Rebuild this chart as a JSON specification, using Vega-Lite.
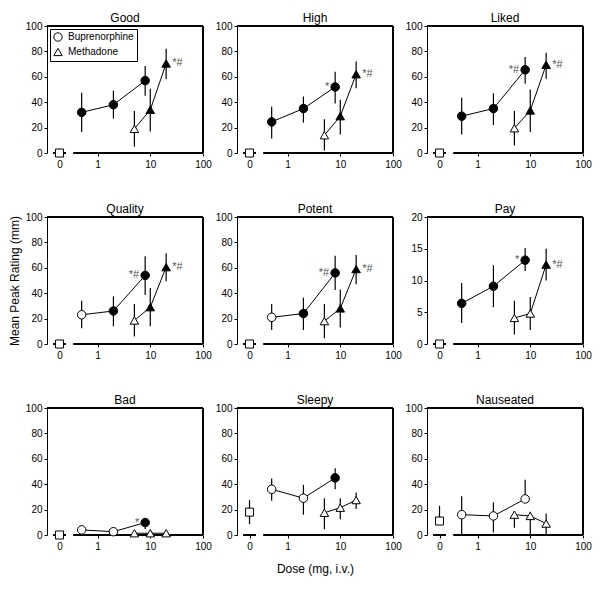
{
"$schema": "https://vega.github.io/schema/vega-lite/v6.json",
"padding": {"left": 8, "top": 12, "right": 5, "bottom": 5},
"datasets": {"d": [
{"panel":"Good","drug":"Placebo","dose":0,"mean":0,"lo":0,"hi":0,"sig":"no","annot":""},
{"panel":"Good","drug":"Buprenorphine","dose":0.5,"mean":32,"lo":16.5,"hi":47.5,"sig":"yes","annot":""},
{"panel":"Good","drug":"Buprenorphine","dose":2,"mean":38,"lo":27,"hi":49,"sig":"yes","annot":""},
{"panel":"Good","drug":"Buprenorphine","dose":8,"mean":57,"lo":45,"hi":68.5,"sig":"yes","annot":""},
{"panel":"Good","drug":"Methadone","dose":5,"mean":19,"lo":5,"hi":33,"sig":"no","annot":""},
{"panel":"Good","drug":"Methadone","dose":10,"mean":34,"lo":17,"hi":50.5,"sig":"yes","annot":""},
{"panel":"Good","drug":"Methadone","dose":20,"mean":70.5,"lo":58,"hi":82,"sig":"yes","annot":"*#"},
{"panel":"High","drug":"Placebo","dose":0,"mean":0,"lo":0,"hi":0,"sig":"no","annot":""},
{"panel":"High","drug":"Buprenorphine","dose":0.5,"mean":24.5,"lo":11.5,"hi":36.5,"sig":"yes","annot":""},
{"panel":"High","drug":"Buprenorphine","dose":2,"mean":35,"lo":24,"hi":44.5,"sig":"yes","annot":""},
{"panel":"High","drug":"Buprenorphine","dose":8,"mean":52,"lo":39,"hi":64,"sig":"yes","annot":"*"},
{"panel":"High","drug":"Methadone","dose":5,"mean":14,"lo":2,"hi":26.5,"sig":"no","annot":""},
{"panel":"High","drug":"Methadone","dose":10,"mean":29,"lo":14.5,"hi":42,"sig":"yes","annot":""},
{"panel":"High","drug":"Methadone","dose":20,"mean":62,"lo":51,"hi":72,"sig":"yes","annot":"*#"},
{"panel":"Liked","drug":"Placebo","dose":0,"mean":0,"lo":0,"hi":0,"sig":"no","annot":""},
{"panel":"Liked","drug":"Buprenorphine","dose":0.5,"mean":29,"lo":14.5,"hi":43.5,"sig":"yes","annot":""},
{"panel":"Liked","drug":"Buprenorphine","dose":2,"mean":35,"lo":22,"hi":47,"sig":"yes","annot":""},
{"panel":"Liked","drug":"Buprenorphine","dose":8,"mean":65.5,"lo":54.5,"hi":75.5,"sig":"yes","annot":"*#"},
{"panel":"Liked","drug":"Methadone","dose":5,"mean":19.5,"lo":6,"hi":33,"sig":"no","annot":""},
{"panel":"Liked","drug":"Methadone","dose":10,"mean":33.5,"lo":16.5,"hi":50,"sig":"yes","annot":""},
{"panel":"Liked","drug":"Methadone","dose":20,"mean":69.5,"lo":58.5,"hi":79,"sig":"yes","annot":"*#"},
{"panel":"Quality","drug":"Placebo","dose":0,"mean":0,"lo":0,"hi":0,"sig":"no","annot":""},
{"panel":"Quality","drug":"Buprenorphine","dose":0.5,"mean":23,"lo":12.5,"hi":34,"sig":"no","annot":""},
{"panel":"Quality","drug":"Buprenorphine","dose":2,"mean":26,"lo":14,"hi":37.5,"sig":"yes","annot":""},
{"panel":"Quality","drug":"Buprenorphine","dose":8,"mean":54,"lo":38.5,"hi":69,"sig":"yes","annot":"*#"},
{"panel":"Quality","drug":"Methadone","dose":5,"mean":18.5,"lo":6,"hi":31.5,"sig":"no","annot":""},
{"panel":"Quality","drug":"Methadone","dose":10,"mean":29,"lo":14,"hi":44,"sig":"yes","annot":""},
{"panel":"Quality","drug":"Methadone","dose":20,"mean":60.5,"lo":49.5,"hi":71.5,"sig":"yes","annot":"*#"},
{"panel":"Potent","drug":"Placebo","dose":0,"mean":0,"lo":0,"hi":0,"sig":"no","annot":""},
{"panel":"Potent","drug":"Buprenorphine","dose":0.5,"mean":21,"lo":11,"hi":31.5,"sig":"no","annot":""},
{"panel":"Potent","drug":"Buprenorphine","dose":2,"mean":24,"lo":11,"hi":36.5,"sig":"yes","annot":""},
{"panel":"Potent","drug":"Buprenorphine","dose":8,"mean":56,"lo":42.5,"hi":69.5,"sig":"yes","annot":"*#"},
{"panel":"Potent","drug":"Methadone","dose":5,"mean":18,"lo":4.5,"hi":31.5,"sig":"no","annot":""},
{"panel":"Potent","drug":"Methadone","dose":10,"mean":28,"lo":13,"hi":43,"sig":"yes","annot":""},
{"panel":"Potent","drug":"Methadone","dose":20,"mean":59,"lo":47,"hi":70,"sig":"yes","annot":"*#"},
{"panel":"Pay","drug":"Placebo","dose":0,"mean":0,"lo":0,"hi":0,"sig":"no","annot":""},
{"panel":"Pay","drug":"Buprenorphine","dose":0.5,"mean":6.4,"lo":3.3,"hi":9.6,"sig":"yes","annot":""},
{"panel":"Pay","drug":"Buprenorphine","dose":2,"mean":9.1,"lo":5.8,"hi":12.4,"sig":"yes","annot":""},
{"panel":"Pay","drug":"Buprenorphine","dose":8,"mean":13.2,"lo":11.5,"hi":15.1,"sig":"yes","annot":"*"},
{"panel":"Pay","drug":"Methadone","dose":5,"mean":4.1,"lo":1.5,"hi":6.8,"sig":"no","annot":""},
{"panel":"Pay","drug":"Methadone","dose":10,"mean":4.8,"lo":2.2,"hi":7.4,"sig":"no","annot":""},
{"panel":"Pay","drug":"Methadone","dose":20,"mean":12.5,"lo":10,"hi":15,"sig":"yes","annot":"*#"},
{"panel":"Bad","drug":"Placebo","dose":0,"mean":0,"lo":0,"hi":0,"sig":"no","annot":""},
{"panel":"Bad","drug":"Buprenorphine","dose":0.5,"mean":4,"lo":4,"hi":4,"sig":"no","annot":""},
{"panel":"Bad","drug":"Buprenorphine","dose":2,"mean":2.6,"lo":2.6,"hi":2.6,"sig":"no","annot":""},
{"panel":"Bad","drug":"Buprenorphine","dose":8,"mean":9.8,"lo":4.8,"hi":9.8,"sig":"yes","annot":"*"},
{"panel":"Bad","drug":"Methadone","dose":5,"mean":1.4,"lo":1.4,"hi":1.4,"sig":"no","annot":""},
{"panel":"Bad","drug":"Methadone","dose":10,"mean":1.4,"lo":1.4,"hi":1.4,"sig":"no","annot":""},
{"panel":"Bad","drug":"Methadone","dose":20,"mean":1.4,"lo":1.4,"hi":1.4,"sig":"no","annot":""},
{"panel":"Sleepy","drug":"Placebo","dose":0,"mean":18,"lo":8.5,"hi":27.5,"sig":"no","annot":""},
{"panel":"Sleepy","drug":"Buprenorphine","dose":0.5,"mean":36,"lo":27,"hi":44.5,"sig":"no","annot":""},
{"panel":"Sleepy","drug":"Buprenorphine","dose":2,"mean":29,"lo":16,"hi":39.5,"sig":"no","annot":""},
{"panel":"Sleepy","drug":"Buprenorphine","dose":8,"mean":45,"lo":36,"hi":52.5,"sig":"yes","annot":""},
{"panel":"Sleepy","drug":"Methadone","dose":5,"mean":17.5,"lo":4.5,"hi":29,"sig":"no","annot":""},
{"panel":"Sleepy","drug":"Methadone","dose":10,"mean":21.5,"lo":12.5,"hi":29,"sig":"no","annot":""},
{"panel":"Sleepy","drug":"Methadone","dose":20,"mean":27.5,"lo":20.5,"hi":33.5,"sig":"no","annot":""},
{"panel":"Nauseated","drug":"Placebo","dose":0,"mean":11,"lo":11,"hi":23,"sig":"no","annot":""},
{"panel":"Nauseated","drug":"Buprenorphine","dose":0.5,"mean":16,"lo":0,"hi":30.5,"sig":"no","annot":""},
{"panel":"Nauseated","drug":"Buprenorphine","dose":2,"mean":15,"lo":2,"hi":25.7,"sig":"no","annot":""},
{"panel":"Nauseated","drug":"Buprenorphine","dose":8,"mean":28.4,"lo":28.4,"hi":43.5,"sig":"no","annot":""},
{"panel":"Nauseated","drug":"Methadone","dose":5,"mean":16,"lo":5.8,"hi":18.5,"sig":"no","annot":""},
{"panel":"Nauseated","drug":"Methadone","dose":10,"mean":15,"lo":0,"hi":18.3,"sig":"no","annot":""},
{"panel":"Nauseated","drug":"Methadone","dose":20,"mean":9,"lo":0,"hi":17,"sig":"no","annot":""}
]},
"data": {"name": "d"},
"columns": 3,
"align": "each",
"spacing": {"row": 34, "column": 3},
"resolve": {"scale": {"shape": "independent", "fill": "independent"}, "legend": {"shape": "independent", "fill": "independent"}},
"concat": [
{"title": "Good", "width": 156, "height": 127,
 "transform": [{"filter": "datum.panel === 'Good'"}],
 "resolve": {"scale": {"x": "independent"}},
 "layer": [
  {"transform": [{"filter": "datum.drug !== 'Placebo'"}],
   "encoding": {
    "x": {"field": "dose", "type": "quantitative", "scale": {"type": "log", "domain": [0.11, 100], "nice": false}, "axis": {"values": [0.19, 1, 10, 100], "labelExpr": "datum.value < 0.5 ? '0' : format(datum.value, 'd')", "domain": false, "title": null}},
    "y": {"field": "mean", "type": "quantitative", "scale": {"domain": [0, 100], "nice": false}, "axis": {"values": [0, 20, 40, 60, 80, 100], "title": null}}},
   "layer": [
    {"mark": {"type": "rule", "stroke": "black", "strokeWidth": 1}, "encoding": {"x": {"datum": 0.11, "type": "quantitative", "scale": {"type": "log", "domain": [0.11, 100], "nice": false}, "axis": {"values": [0.19, 1, 10, 100], "labelExpr": "datum.value < 0.5 ? '0' : format(datum.value, 'd')", "domain": false, "title": null}}, "x2": {"datum": 100}, "y": {"datum": 100, "type": "quantitative", "scale": {"domain": [0, 100], "nice": false}, "axis": {"values": [0, 20, 40, 60, 80, 100], "title": null}}}},
    {"mark": {"type": "rule", "stroke": "black", "strokeWidth": 1}, "encoding": {"x": {"datum": 100, "type": "quantitative", "scale": {"type": "log", "domain": [0.11, 100], "nice": false}, "axis": {"values": [0.19, 1, 10, 100], "labelExpr": "datum.value < 0.5 ? '0' : format(datum.value, 'd')", "domain": false, "title": null}}, "y": {"datum": 0, "type": "quantitative", "scale": {"domain": [0, 100], "nice": false}, "axis": {"values": [0, 20, 40, 60, 80, 100], "title": null}}, "y2": {"datum": 100}}},
    {"mark": {"type": "rule", "stroke": "black", "strokeWidth": 1}, "encoding": {"x": {"datum": 0.35, "type": "quantitative", "scale": {"type": "log", "domain": [0.11, 100], "nice": false}, "axis": {"values": [0.19, 1, 10, 100], "labelExpr": "datum.value < 0.5 ? '0' : format(datum.value, 'd')", "domain": false, "title": null}}, "x2": {"datum": 100}, "y": {"datum": 0, "type": "quantitative", "scale": {"domain": [0, 100], "nice": false}, "axis": {"values": [0, 20, 40, 60, 80, 100], "title": null}}}},
    {"mark": {"type": "rule", "stroke": "black", "strokeWidth": 1}, "encoding": {"x": {"datum": 0.145, "type": "quantitative", "scale": {"type": "log", "domain": [0.11, 100], "nice": false}, "axis": {"values": [0.19, 1, 10, 100], "labelExpr": "datum.value < 0.5 ? '0' : format(datum.value, 'd')", "domain": false, "title": null}}, "x2": {"datum": 0.25}, "y": {"datum": 0, "type": "quantitative", "scale": {"domain": [0, 100], "nice": false}, "axis": {"values": [0, 20, 40, 60, 80, 100], "title": null}}}},
    {"mark": {"type": "line", "stroke": "black", "strokeWidth": 1}, "encoding": {"detail": {"field": "drug"}}},
    {"mark": {"type": "rule", "stroke": "black", "strokeWidth": 1.2}, "encoding": {"y": {"field": "lo", "type": "quantitative", "scale": {"domain": [0, 100], "nice": false}, "axis": {"values": [0, 20, 40, 60, 80, 100], "title": null}}, "y2": {"field": "hi"}}},
    {"mark": {"type": "point", "filled": true, "stroke": "black", "strokeWidth": 1, "size": 72, "opacity": 1}, "encoding": {
      "shape": {"field": "drug", "type": "nominal", "scale": {"domain": ["Buprenorphine", "Methadone"], "range": ["circle", "triangle-up"]}, "legend": {"orient": "top-left", "title": null, "offset": 3, "strokeColor": "black", "fillColor": "white", "padding": 3, "labelFontSize": 10, "labelColor": "black", "symbolSize": 70, "symbolFillColor": "white", "symbolStrokeColor": "black", "symbolStrokeWidth": 1, "rowPadding": 2, "labelOffset": 5}},
      "fill": {"field": "sig", "type": "nominal", "scale": {"domain": ["yes", "no"], "range": ["black", "white"]}, "legend": null}}},
    {"transform": [{"filter": "datum.drug === 'Buprenorphine'"}], "mark": {"type": "text", "align": "right", "baseline": "middle", "dx": -6, "fontSize": 11, "color": "#555"}, "encoding": {"text": {"field": "annot"}}},
    {"transform": [{"filter": "datum.drug === 'Methadone'"}], "mark": {"type": "text", "align": "left", "baseline": "middle", "dx": 6, "fontSize": 11, "color": "#555"}, "encoding": {"text": {"field": "annot"}}}
   ]},
  {"transform": [{"filter": "datum.drug === 'Placebo'"}],
   "encoding": {"x": {"field": "dose", "type": "quantitative", "scale": {"type": "linear", "domain": [-1, 11.46], "nice": false, "zero": false}, "axis": null},
    "y": {"field": "mean", "type": "quantitative", "scale": {"domain": [0, 100], "nice": false}, "axis": {"values": [0, 20, 40, 60, 80, 100], "title": null}}},
   "layer": [
    {"mark": {"type": "rule", "stroke": "black", "strokeWidth": 1.2}, "encoding": {"y": {"field": "lo", "type": "quantitative", "scale": {"domain": [0, 100], "nice": false}, "axis": {"values": [0, 20, 40, 60, 80, 100], "title": null}}, "y2": {"field": "hi"}}},
    {"mark": {"type": "point", "shape": "square", "filled": true, "fill": "white", "stroke": "black", "strokeWidth": 1, "size": 64, "opacity": 1}}
   ]}
 ]},
{"title": "High", "width": 156, "height": 127,
 "transform": [{"filter": "datum.panel === 'High'"}],
 "resolve": {"scale": {"x": "independent"}},
 "layer": [
  {"transform": [{"filter": "datum.drug !== 'Placebo'"}],
   "encoding": {
    "x": {"field": "dose", "type": "quantitative", "scale": {"type": "log", "domain": [0.11, 100], "nice": false}, "axis": {"values": [0.19, 1, 10, 100], "labelExpr": "datum.value < 0.5 ? '0' : format(datum.value, 'd')", "domain": false, "title": null}},
    "y": {"field": "mean", "type": "quantitative", "scale": {"domain": [0, 100], "nice": false}, "axis": {"values": [0, 20, 40, 60, 80, 100], "title": null}}},
   "layer": [
    {"mark": {"type": "rule", "stroke": "black", "strokeWidth": 1}, "encoding": {"x": {"datum": 0.11, "type": "quantitative", "scale": {"type": "log", "domain": [0.11, 100], "nice": false}, "axis": {"values": [0.19, 1, 10, 100], "labelExpr": "datum.value < 0.5 ? '0' : format(datum.value, 'd')", "domain": false, "title": null}}, "x2": {"datum": 100}, "y": {"datum": 100, "type": "quantitative", "scale": {"domain": [0, 100], "nice": false}, "axis": {"values": [0, 20, 40, 60, 80, 100], "title": null}}}},
    {"mark": {"type": "rule", "stroke": "black", "strokeWidth": 1}, "encoding": {"x": {"datum": 100, "type": "quantitative", "scale": {"type": "log", "domain": [0.11, 100], "nice": false}, "axis": {"values": [0.19, 1, 10, 100], "labelExpr": "datum.value < 0.5 ? '0' : format(datum.value, 'd')", "domain": false, "title": null}}, "y": {"datum": 0, "type": "quantitative", "scale": {"domain": [0, 100], "nice": false}, "axis": {"values": [0, 20, 40, 60, 80, 100], "title": null}}, "y2": {"datum": 100}}},
    {"mark": {"type": "rule", "stroke": "black", "strokeWidth": 1}, "encoding": {"x": {"datum": 0.35, "type": "quantitative", "scale": {"type": "log", "domain": [0.11, 100], "nice": false}, "axis": {"values": [0.19, 1, 10, 100], "labelExpr": "datum.value < 0.5 ? '0' : format(datum.value, 'd')", "domain": false, "title": null}}, "x2": {"datum": 100}, "y": {"datum": 0, "type": "quantitative", "scale": {"domain": [0, 100], "nice": false}, "axis": {"values": [0, 20, 40, 60, 80, 100], "title": null}}}},
    {"mark": {"type": "rule", "stroke": "black", "strokeWidth": 1}, "encoding": {"x": {"datum": 0.145, "type": "quantitative", "scale": {"type": "log", "domain": [0.11, 100], "nice": false}, "axis": {"values": [0.19, 1, 10, 100], "labelExpr": "datum.value < 0.5 ? '0' : format(datum.value, 'd')", "domain": false, "title": null}}, "x2": {"datum": 0.25}, "y": {"datum": 0, "type": "quantitative", "scale": {"domain": [0, 100], "nice": false}, "axis": {"values": [0, 20, 40, 60, 80, 100], "title": null}}}},
    {"mark": {"type": "line", "stroke": "black", "strokeWidth": 1}, "encoding": {"detail": {"field": "drug"}}},
    {"mark": {"type": "rule", "stroke": "black", "strokeWidth": 1.2}, "encoding": {"y": {"field": "lo", "type": "quantitative", "scale": {"domain": [0, 100], "nice": false}, "axis": {"values": [0, 20, 40, 60, 80, 100], "title": null}}, "y2": {"field": "hi"}}},
    {"mark": {"type": "point", "filled": true, "stroke": "black", "strokeWidth": 1, "size": 72, "opacity": 1}, "encoding": {
      "shape": {"field": "drug", "type": "nominal", "scale": {"domain": ["Buprenorphine", "Methadone"], "range": ["circle", "triangle-up"]}, "legend": null},
      "fill": {"field": "sig", "type": "nominal", "scale": {"domain": ["yes", "no"], "range": ["black", "white"]}, "legend": null}}},
    {"transform": [{"filter": "datum.drug === 'Buprenorphine'"}], "mark": {"type": "text", "align": "right", "baseline": "middle", "dx": -6, "fontSize": 11, "color": "#555"}, "encoding": {"text": {"field": "annot"}}},
    {"transform": [{"filter": "datum.drug === 'Methadone'"}], "mark": {"type": "text", "align": "left", "baseline": "middle", "dx": 6, "fontSize": 11, "color": "#555"}, "encoding": {"text": {"field": "annot"}}}
   ]},
  {"transform": [{"filter": "datum.drug === 'Placebo'"}],
   "encoding": {"x": {"field": "dose", "type": "quantitative", "scale": {"type": "linear", "domain": [-1, 11.46], "nice": false, "zero": false}, "axis": null},
    "y": {"field": "mean", "type": "quantitative", "scale": {"domain": [0, 100], "nice": false}, "axis": {"values": [0, 20, 40, 60, 80, 100], "title": null}}},
   "layer": [
    {"mark": {"type": "rule", "stroke": "black", "strokeWidth": 1.2}, "encoding": {"y": {"field": "lo", "type": "quantitative", "scale": {"domain": [0, 100], "nice": false}, "axis": {"values": [0, 20, 40, 60, 80, 100], "title": null}}, "y2": {"field": "hi"}}},
    {"mark": {"type": "point", "shape": "square", "filled": true, "fill": "white", "stroke": "black", "strokeWidth": 1, "size": 64, "opacity": 1}}
   ]}
 ]},
{"title": "Liked", "width": 156, "height": 127,
 "transform": [{"filter": "datum.panel === 'Liked'"}],
 "resolve": {"scale": {"x": "independent"}},
 "layer": [
  {"transform": [{"filter": "datum.drug !== 'Placebo'"}],
   "encoding": {
    "x": {"field": "dose", "type": "quantitative", "scale": {"type": "log", "domain": [0.11, 100], "nice": false}, "axis": {"values": [0.19, 1, 10, 100], "labelExpr": "datum.value < 0.5 ? '0' : format(datum.value, 'd')", "domain": false, "title": null}},
    "y": {"field": "mean", "type": "quantitative", "scale": {"domain": [0, 100], "nice": false}, "axis": {"values": [0, 20, 40, 60, 80, 100], "title": null}}},
   "layer": [
    {"mark": {"type": "rule", "stroke": "black", "strokeWidth": 1}, "encoding": {"x": {"datum": 0.11, "type": "quantitative", "scale": {"type": "log", "domain": [0.11, 100], "nice": false}, "axis": {"values": [0.19, 1, 10, 100], "labelExpr": "datum.value < 0.5 ? '0' : format(datum.value, 'd')", "domain": false, "title": null}}, "x2": {"datum": 100}, "y": {"datum": 100, "type": "quantitative", "scale": {"domain": [0, 100], "nice": false}, "axis": {"values": [0, 20, 40, 60, 80, 100], "title": null}}}},
    {"mark": {"type": "rule", "stroke": "black", "strokeWidth": 1}, "encoding": {"x": {"datum": 100, "type": "quantitative", "scale": {"type": "log", "domain": [0.11, 100], "nice": false}, "axis": {"values": [0.19, 1, 10, 100], "labelExpr": "datum.value < 0.5 ? '0' : format(datum.value, 'd')", "domain": false, "title": null}}, "y": {"datum": 0, "type": "quantitative", "scale": {"domain": [0, 100], "nice": false}, "axis": {"values": [0, 20, 40, 60, 80, 100], "title": null}}, "y2": {"datum": 100}}},
    {"mark": {"type": "rule", "stroke": "black", "strokeWidth": 1}, "encoding": {"x": {"datum": 0.35, "type": "quantitative", "scale": {"type": "log", "domain": [0.11, 100], "nice": false}, "axis": {"values": [0.19, 1, 10, 100], "labelExpr": "datum.value < 0.5 ? '0' : format(datum.value, 'd')", "domain": false, "title": null}}, "x2": {"datum": 100}, "y": {"datum": 0, "type": "quantitative", "scale": {"domain": [0, 100], "nice": false}, "axis": {"values": [0, 20, 40, 60, 80, 100], "title": null}}}},
    {"mark": {"type": "rule", "stroke": "black", "strokeWidth": 1}, "encoding": {"x": {"datum": 0.145, "type": "quantitative", "scale": {"type": "log", "domain": [0.11, 100], "nice": false}, "axis": {"values": [0.19, 1, 10, 100], "labelExpr": "datum.value < 0.5 ? '0' : format(datum.value, 'd')", "domain": false, "title": null}}, "x2": {"datum": 0.25}, "y": {"datum": 0, "type": "quantitative", "scale": {"domain": [0, 100], "nice": false}, "axis": {"values": [0, 20, 40, 60, 80, 100], "title": null}}}},
    {"mark": {"type": "line", "stroke": "black", "strokeWidth": 1}, "encoding": {"detail": {"field": "drug"}}},
    {"mark": {"type": "rule", "stroke": "black", "strokeWidth": 1.2}, "encoding": {"y": {"field": "lo", "type": "quantitative", "scale": {"domain": [0, 100], "nice": false}, "axis": {"values": [0, 20, 40, 60, 80, 100], "title": null}}, "y2": {"field": "hi"}}},
    {"mark": {"type": "point", "filled": true, "stroke": "black", "strokeWidth": 1, "size": 72, "opacity": 1}, "encoding": {
      "shape": {"field": "drug", "type": "nominal", "scale": {"domain": ["Buprenorphine", "Methadone"], "range": ["circle", "triangle-up"]}, "legend": null},
      "fill": {"field": "sig", "type": "nominal", "scale": {"domain": ["yes", "no"], "range": ["black", "white"]}, "legend": null}}},
    {"transform": [{"filter": "datum.drug === 'Buprenorphine'"}], "mark": {"type": "text", "align": "right", "baseline": "middle", "dx": -6, "fontSize": 11, "color": "#555"}, "encoding": {"text": {"field": "annot"}}},
    {"transform": [{"filter": "datum.drug === 'Methadone'"}], "mark": {"type": "text", "align": "left", "baseline": "middle", "dx": 6, "fontSize": 11, "color": "#555"}, "encoding": {"text": {"field": "annot"}}}
   ]},
  {"transform": [{"filter": "datum.drug === 'Placebo'"}],
   "encoding": {"x": {"field": "dose", "type": "quantitative", "scale": {"type": "linear", "domain": [-1, 11.46], "nice": false, "zero": false}, "axis": null},
    "y": {"field": "mean", "type": "quantitative", "scale": {"domain": [0, 100], "nice": false}, "axis": {"values": [0, 20, 40, 60, 80, 100], "title": null}}},
   "layer": [
    {"mark": {"type": "rule", "stroke": "black", "strokeWidth": 1.2}, "encoding": {"y": {"field": "lo", "type": "quantitative", "scale": {"domain": [0, 100], "nice": false}, "axis": {"values": [0, 20, 40, 60, 80, 100], "title": null}}, "y2": {"field": "hi"}}},
    {"mark": {"type": "point", "shape": "square", "filled": true, "fill": "white", "stroke": "black", "strokeWidth": 1, "size": 64, "opacity": 1}}
   ]}
 ]},
{"title": "Quality", "width": 156, "height": 127,
 "transform": [{"filter": "datum.panel === 'Quality'"}],
 "resolve": {"scale": {"x": "independent"}},
 "layer": [
  {"transform": [{"filter": "datum.drug !== 'Placebo'"}],
   "encoding": {
    "x": {"field": "dose", "type": "quantitative", "scale": {"type": "log", "domain": [0.11, 100], "nice": false}, "axis": {"values": [0.19, 1, 10, 100], "labelExpr": "datum.value < 0.5 ? '0' : format(datum.value, 'd')", "domain": false, "title": null}},
    "y": {"field": "mean", "type": "quantitative", "scale": {"domain": [0, 100], "nice": false}, "axis": {"values": [0, 20, 40, 60, 80, 100], "title": "Mean Peak Rating (mm)"}}},
   "layer": [
    {"mark": {"type": "rule", "stroke": "black", "strokeWidth": 1}, "encoding": {"x": {"datum": 0.11, "type": "quantitative", "scale": {"type": "log", "domain": [0.11, 100], "nice": false}, "axis": {"values": [0.19, 1, 10, 100], "labelExpr": "datum.value < 0.5 ? '0' : format(datum.value, 'd')", "domain": false, "title": null}}, "x2": {"datum": 100}, "y": {"datum": 100, "type": "quantitative", "scale": {"domain": [0, 100], "nice": false}, "axis": {"values": [0, 20, 40, 60, 80, 100], "title": "Mean Peak Rating (mm)"}}}},
    {"mark": {"type": "rule", "stroke": "black", "strokeWidth": 1}, "encoding": {"x": {"datum": 100, "type": "quantitative", "scale": {"type": "log", "domain": [0.11, 100], "nice": false}, "axis": {"values": [0.19, 1, 10, 100], "labelExpr": "datum.value < 0.5 ? '0' : format(datum.value, 'd')", "domain": false, "title": null}}, "y": {"datum": 0, "type": "quantitative", "scale": {"domain": [0, 100], "nice": false}, "axis": {"values": [0, 20, 40, 60, 80, 100], "title": "Mean Peak Rating (mm)"}}, "y2": {"datum": 100}}},
    {"mark": {"type": "rule", "stroke": "black", "strokeWidth": 1}, "encoding": {"x": {"datum": 0.35, "type": "quantitative", "scale": {"type": "log", "domain": [0.11, 100], "nice": false}, "axis": {"values": [0.19, 1, 10, 100], "labelExpr": "datum.value < 0.5 ? '0' : format(datum.value, 'd')", "domain": false, "title": null}}, "x2": {"datum": 100}, "y": {"datum": 0, "type": "quantitative", "scale": {"domain": [0, 100], "nice": false}, "axis": {"values": [0, 20, 40, 60, 80, 100], "title": "Mean Peak Rating (mm)"}}}},
    {"mark": {"type": "rule", "stroke": "black", "strokeWidth": 1}, "encoding": {"x": {"datum": 0.145, "type": "quantitative", "scale": {"type": "log", "domain": [0.11, 100], "nice": false}, "axis": {"values": [0.19, 1, 10, 100], "labelExpr": "datum.value < 0.5 ? '0' : format(datum.value, 'd')", "domain": false, "title": null}}, "x2": {"datum": 0.25}, "y": {"datum": 0, "type": "quantitative", "scale": {"domain": [0, 100], "nice": false}, "axis": {"values": [0, 20, 40, 60, 80, 100], "title": "Mean Peak Rating (mm)"}}}},
    {"mark": {"type": "line", "stroke": "black", "strokeWidth": 1}, "encoding": {"detail": {"field": "drug"}}},
    {"mark": {"type": "rule", "stroke": "black", "strokeWidth": 1.2}, "encoding": {"y": {"field": "lo", "type": "quantitative", "scale": {"domain": [0, 100], "nice": false}, "axis": {"values": [0, 20, 40, 60, 80, 100], "title": "Mean Peak Rating (mm)"}}, "y2": {"field": "hi"}}},
    {"mark": {"type": "point", "filled": true, "stroke": "black", "strokeWidth": 1, "size": 72, "opacity": 1}, "encoding": {
      "shape": {"field": "drug", "type": "nominal", "scale": {"domain": ["Buprenorphine", "Methadone"], "range": ["circle", "triangle-up"]}, "legend": null},
      "fill": {"field": "sig", "type": "nominal", "scale": {"domain": ["yes", "no"], "range": ["black", "white"]}, "legend": null}}},
    {"transform": [{"filter": "datum.drug === 'Buprenorphine'"}], "mark": {"type": "text", "align": "right", "baseline": "middle", "dx": -6, "fontSize": 11, "color": "#555"}, "encoding": {"text": {"field": "annot"}}},
    {"transform": [{"filter": "datum.drug === 'Methadone'"}], "mark": {"type": "text", "align": "left", "baseline": "middle", "dx": 6, "fontSize": 11, "color": "#555"}, "encoding": {"text": {"field": "annot"}}}
   ]},
  {"transform": [{"filter": "datum.drug === 'Placebo'"}],
   "encoding": {"x": {"field": "dose", "type": "quantitative", "scale": {"type": "linear", "domain": [-1, 11.46], "nice": false, "zero": false}, "axis": null},
    "y": {"field": "mean", "type": "quantitative", "scale": {"domain": [0, 100], "nice": false}, "axis": {"values": [0, 20, 40, 60, 80, 100], "title": "Mean Peak Rating (mm)"}}},
   "layer": [
    {"mark": {"type": "rule", "stroke": "black", "strokeWidth": 1.2}, "encoding": {"y": {"field": "lo", "type": "quantitative", "scale": {"domain": [0, 100], "nice": false}, "axis": {"values": [0, 20, 40, 60, 80, 100], "title": "Mean Peak Rating (mm)"}}, "y2": {"field": "hi"}}},
    {"mark": {"type": "point", "shape": "square", "filled": true, "fill": "white", "stroke": "black", "strokeWidth": 1, "size": 64, "opacity": 1}}
   ]}
 ]},
{"title": "Potent", "width": 156, "height": 127,
 "transform": [{"filter": "datum.panel === 'Potent'"}],
 "resolve": {"scale": {"x": "independent"}},
 "layer": [
  {"transform": [{"filter": "datum.drug !== 'Placebo'"}],
   "encoding": {
    "x": {"field": "dose", "type": "quantitative", "scale": {"type": "log", "domain": [0.11, 100], "nice": false}, "axis": {"values": [0.19, 1, 10, 100], "labelExpr": "datum.value < 0.5 ? '0' : format(datum.value, 'd')", "domain": false, "title": null}},
    "y": {"field": "mean", "type": "quantitative", "scale": {"domain": [0, 100], "nice": false}, "axis": {"values": [0, 20, 40, 60, 80, 100], "title": null}}},
   "layer": [
    {"mark": {"type": "rule", "stroke": "black", "strokeWidth": 1}, "encoding": {"x": {"datum": 0.11, "type": "quantitative", "scale": {"type": "log", "domain": [0.11, 100], "nice": false}, "axis": {"values": [0.19, 1, 10, 100], "labelExpr": "datum.value < 0.5 ? '0' : format(datum.value, 'd')", "domain": false, "title": null}}, "x2": {"datum": 100}, "y": {"datum": 100, "type": "quantitative", "scale": {"domain": [0, 100], "nice": false}, "axis": {"values": [0, 20, 40, 60, 80, 100], "title": null}}}},
    {"mark": {"type": "rule", "stroke": "black", "strokeWidth": 1}, "encoding": {"x": {"datum": 100, "type": "quantitative", "scale": {"type": "log", "domain": [0.11, 100], "nice": false}, "axis": {"values": [0.19, 1, 10, 100], "labelExpr": "datum.value < 0.5 ? '0' : format(datum.value, 'd')", "domain": false, "title": null}}, "y": {"datum": 0, "type": "quantitative", "scale": {"domain": [0, 100], "nice": false}, "axis": {"values": [0, 20, 40, 60, 80, 100], "title": null}}, "y2": {"datum": 100}}},
    {"mark": {"type": "rule", "stroke": "black", "strokeWidth": 1}, "encoding": {"x": {"datum": 0.35, "type": "quantitative", "scale": {"type": "log", "domain": [0.11, 100], "nice": false}, "axis": {"values": [0.19, 1, 10, 100], "labelExpr": "datum.value < 0.5 ? '0' : format(datum.value, 'd')", "domain": false, "title": null}}, "x2": {"datum": 100}, "y": {"datum": 0, "type": "quantitative", "scale": {"domain": [0, 100], "nice": false}, "axis": {"values": [0, 20, 40, 60, 80, 100], "title": null}}}},
    {"mark": {"type": "rule", "stroke": "black", "strokeWidth": 1}, "encoding": {"x": {"datum": 0.145, "type": "quantitative", "scale": {"type": "log", "domain": [0.11, 100], "nice": false}, "axis": {"values": [0.19, 1, 10, 100], "labelExpr": "datum.value < 0.5 ? '0' : format(datum.value, 'd')", "domain": false, "title": null}}, "x2": {"datum": 0.25}, "y": {"datum": 0, "type": "quantitative", "scale": {"domain": [0, 100], "nice": false}, "axis": {"values": [0, 20, 40, 60, 80, 100], "title": null}}}},
    {"mark": {"type": "line", "stroke": "black", "strokeWidth": 1}, "encoding": {"detail": {"field": "drug"}}},
    {"mark": {"type": "rule", "stroke": "black", "strokeWidth": 1.2}, "encoding": {"y": {"field": "lo", "type": "quantitative", "scale": {"domain": [0, 100], "nice": false}, "axis": {"values": [0, 20, 40, 60, 80, 100], "title": null}}, "y2": {"field": "hi"}}},
    {"mark": {"type": "point", "filled": true, "stroke": "black", "strokeWidth": 1, "size": 72, "opacity": 1}, "encoding": {
      "shape": {"field": "drug", "type": "nominal", "scale": {"domain": ["Buprenorphine", "Methadone"], "range": ["circle", "triangle-up"]}, "legend": null},
      "fill": {"field": "sig", "type": "nominal", "scale": {"domain": ["yes", "no"], "range": ["black", "white"]}, "legend": null}}},
    {"transform": [{"filter": "datum.drug === 'Buprenorphine'"}], "mark": {"type": "text", "align": "right", "baseline": "middle", "dx": -6, "fontSize": 11, "color": "#555"}, "encoding": {"text": {"field": "annot"}}},
    {"transform": [{"filter": "datum.drug === 'Methadone'"}], "mark": {"type": "text", "align": "left", "baseline": "middle", "dx": 6, "fontSize": 11, "color": "#555"}, "encoding": {"text": {"field": "annot"}}}
   ]},
  {"transform": [{"filter": "datum.drug === 'Placebo'"}],
   "encoding": {"x": {"field": "dose", "type": "quantitative", "scale": {"type": "linear", "domain": [-1, 11.46], "nice": false, "zero": false}, "axis": null},
    "y": {"field": "mean", "type": "quantitative", "scale": {"domain": [0, 100], "nice": false}, "axis": {"values": [0, 20, 40, 60, 80, 100], "title": null}}},
   "layer": [
    {"mark": {"type": "rule", "stroke": "black", "strokeWidth": 1.2}, "encoding": {"y": {"field": "lo", "type": "quantitative", "scale": {"domain": [0, 100], "nice": false}, "axis": {"values": [0, 20, 40, 60, 80, 100], "title": null}}, "y2": {"field": "hi"}}},
    {"mark": {"type": "point", "shape": "square", "filled": true, "fill": "white", "stroke": "black", "strokeWidth": 1, "size": 64, "opacity": 1}}
   ]}
 ]},
{"title": "Pay", "width": 156, "height": 127,
 "transform": [{"filter": "datum.panel === 'Pay'"}],
 "resolve": {"scale": {"x": "independent"}},
 "layer": [
  {"transform": [{"filter": "datum.drug !== 'Placebo'"}],
   "encoding": {
    "x": {"field": "dose", "type": "quantitative", "scale": {"type": "log", "domain": [0.11, 100], "nice": false}, "axis": {"values": [0.19, 1, 10, 100], "labelExpr": "datum.value < 0.5 ? '0' : format(datum.value, 'd')", "domain": false, "title": null}},
    "y": {"field": "mean", "type": "quantitative", "scale": {"domain": [0, 20], "nice": false}, "axis": {"values": [0, 5, 10, 15, 20], "title": null}}},
   "layer": [
    {"mark": {"type": "rule", "stroke": "black", "strokeWidth": 1}, "encoding": {"x": {"datum": 0.11, "type": "quantitative", "scale": {"type": "log", "domain": [0.11, 100], "nice": false}, "axis": {"values": [0.19, 1, 10, 100], "labelExpr": "datum.value < 0.5 ? '0' : format(datum.value, 'd')", "domain": false, "title": null}}, "x2": {"datum": 100}, "y": {"datum": 20, "type": "quantitative", "scale": {"domain": [0, 20], "nice": false}, "axis": {"values": [0, 5, 10, 15, 20], "title": null}}}},
    {"mark": {"type": "rule", "stroke": "black", "strokeWidth": 1}, "encoding": {"x": {"datum": 100, "type": "quantitative", "scale": {"type": "log", "domain": [0.11, 100], "nice": false}, "axis": {"values": [0.19, 1, 10, 100], "labelExpr": "datum.value < 0.5 ? '0' : format(datum.value, 'd')", "domain": false, "title": null}}, "y": {"datum": 0, "type": "quantitative", "scale": {"domain": [0, 20], "nice": false}, "axis": {"values": [0, 5, 10, 15, 20], "title": null}}, "y2": {"datum": 20}}},
    {"mark": {"type": "rule", "stroke": "black", "strokeWidth": 1}, "encoding": {"x": {"datum": 0.35, "type": "quantitative", "scale": {"type": "log", "domain": [0.11, 100], "nice": false}, "axis": {"values": [0.19, 1, 10, 100], "labelExpr": "datum.value < 0.5 ? '0' : format(datum.value, 'd')", "domain": false, "title": null}}, "x2": {"datum": 100}, "y": {"datum": 0, "type": "quantitative", "scale": {"domain": [0, 20], "nice": false}, "axis": {"values": [0, 5, 10, 15, 20], "title": null}}}},
    {"mark": {"type": "rule", "stroke": "black", "strokeWidth": 1}, "encoding": {"x": {"datum": 0.145, "type": "quantitative", "scale": {"type": "log", "domain": [0.11, 100], "nice": false}, "axis": {"values": [0.19, 1, 10, 100], "labelExpr": "datum.value < 0.5 ? '0' : format(datum.value, 'd')", "domain": false, "title": null}}, "x2": {"datum": 0.25}, "y": {"datum": 0, "type": "quantitative", "scale": {"domain": [0, 20], "nice": false}, "axis": {"values": [0, 5, 10, 15, 20], "title": null}}}},
    {"mark": {"type": "line", "stroke": "black", "strokeWidth": 1}, "encoding": {"detail": {"field": "drug"}}},
    {"mark": {"type": "rule", "stroke": "black", "strokeWidth": 1.2}, "encoding": {"y": {"field": "lo", "type": "quantitative", "scale": {"domain": [0, 20], "nice": false}, "axis": {"values": [0, 5, 10, 15, 20], "title": null}}, "y2": {"field": "hi"}}},
    {"mark": {"type": "point", "filled": true, "stroke": "black", "strokeWidth": 1, "size": 72, "opacity": 1}, "encoding": {
      "shape": {"field": "drug", "type": "nominal", "scale": {"domain": ["Buprenorphine", "Methadone"], "range": ["circle", "triangle-up"]}, "legend": null},
      "fill": {"field": "sig", "type": "nominal", "scale": {"domain": ["yes", "no"], "range": ["black", "white"]}, "legend": null}}},
    {"transform": [{"filter": "datum.drug === 'Buprenorphine'"}], "mark": {"type": "text", "align": "right", "baseline": "middle", "dx": -6, "fontSize": 11, "color": "#555"}, "encoding": {"text": {"field": "annot"}}},
    {"transform": [{"filter": "datum.drug === 'Methadone'"}], "mark": {"type": "text", "align": "left", "baseline": "middle", "dx": 6, "fontSize": 11, "color": "#555"}, "encoding": {"text": {"field": "annot"}}}
   ]},
  {"transform": [{"filter": "datum.drug === 'Placebo'"}],
   "encoding": {"x": {"field": "dose", "type": "quantitative", "scale": {"type": "linear", "domain": [-1, 11.46], "nice": false, "zero": false}, "axis": null},
    "y": {"field": "mean", "type": "quantitative", "scale": {"domain": [0, 20], "nice": false}, "axis": {"values": [0, 5, 10, 15, 20], "title": null}}},
   "layer": [
    {"mark": {"type": "rule", "stroke": "black", "strokeWidth": 1.2}, "encoding": {"y": {"field": "lo", "type": "quantitative", "scale": {"domain": [0, 20], "nice": false}, "axis": {"values": [0, 5, 10, 15, 20], "title": null}}, "y2": {"field": "hi"}}},
    {"mark": {"type": "point", "shape": "square", "filled": true, "fill": "white", "stroke": "black", "strokeWidth": 1, "size": 64, "opacity": 1}}
   ]}
 ]},
{"title": "Bad", "width": 156, "height": 127,
 "transform": [{"filter": "datum.panel === 'Bad'"}],
 "resolve": {"scale": {"x": "independent"}},
 "layer": [
  {"transform": [{"filter": "datum.drug !== 'Placebo'"}],
   "encoding": {
    "x": {"field": "dose", "type": "quantitative", "scale": {"type": "log", "domain": [0.11, 100], "nice": false}, "axis": {"values": [0.19, 1, 10, 100], "labelExpr": "datum.value < 0.5 ? '0' : format(datum.value, 'd')", "domain": false, "title": null}},
    "y": {"field": "mean", "type": "quantitative", "scale": {"domain": [0, 100], "nice": false}, "axis": {"values": [0, 20, 40, 60, 80, 100], "title": null}}},
   "layer": [
    {"mark": {"type": "rule", "stroke": "black", "strokeWidth": 1}, "encoding": {"x": {"datum": 0.11, "type": "quantitative", "scale": {"type": "log", "domain": [0.11, 100], "nice": false}, "axis": {"values": [0.19, 1, 10, 100], "labelExpr": "datum.value < 0.5 ? '0' : format(datum.value, 'd')", "domain": false, "title": null}}, "x2": {"datum": 100}, "y": {"datum": 100, "type": "quantitative", "scale": {"domain": [0, 100], "nice": false}, "axis": {"values": [0, 20, 40, 60, 80, 100], "title": null}}}},
    {"mark": {"type": "rule", "stroke": "black", "strokeWidth": 1}, "encoding": {"x": {"datum": 100, "type": "quantitative", "scale": {"type": "log", "domain": [0.11, 100], "nice": false}, "axis": {"values": [0.19, 1, 10, 100], "labelExpr": "datum.value < 0.5 ? '0' : format(datum.value, 'd')", "domain": false, "title": null}}, "y": {"datum": 0, "type": "quantitative", "scale": {"domain": [0, 100], "nice": false}, "axis": {"values": [0, 20, 40, 60, 80, 100], "title": null}}, "y2": {"datum": 100}}},
    {"mark": {"type": "rule", "stroke": "black", "strokeWidth": 1}, "encoding": {"x": {"datum": 0.35, "type": "quantitative", "scale": {"type": "log", "domain": [0.11, 100], "nice": false}, "axis": {"values": [0.19, 1, 10, 100], "labelExpr": "datum.value < 0.5 ? '0' : format(datum.value, 'd')", "domain": false, "title": null}}, "x2": {"datum": 100}, "y": {"datum": 0, "type": "quantitative", "scale": {"domain": [0, 100], "nice": false}, "axis": {"values": [0, 20, 40, 60, 80, 100], "title": null}}}},
    {"mark": {"type": "rule", "stroke": "black", "strokeWidth": 1}, "encoding": {"x": {"datum": 0.145, "type": "quantitative", "scale": {"type": "log", "domain": [0.11, 100], "nice": false}, "axis": {"values": [0.19, 1, 10, 100], "labelExpr": "datum.value < 0.5 ? '0' : format(datum.value, 'd')", "domain": false, "title": null}}, "x2": {"datum": 0.25}, "y": {"datum": 0, "type": "quantitative", "scale": {"domain": [0, 100], "nice": false}, "axis": {"values": [0, 20, 40, 60, 80, 100], "title": null}}}},
    {"mark": {"type": "line", "stroke": "black", "strokeWidth": 1}, "encoding": {"detail": {"field": "drug"}}},
    {"mark": {"type": "rule", "stroke": "black", "strokeWidth": 1.2}, "encoding": {"y": {"field": "lo", "type": "quantitative", "scale": {"domain": [0, 100], "nice": false}, "axis": {"values": [0, 20, 40, 60, 80, 100], "title": null}}, "y2": {"field": "hi"}}},
    {"mark": {"type": "point", "filled": true, "stroke": "black", "strokeWidth": 1, "size": 72, "opacity": 1}, "encoding": {
      "shape": {"field": "drug", "type": "nominal", "scale": {"domain": ["Buprenorphine", "Methadone"], "range": ["circle", "triangle-up"]}, "legend": null},
      "fill": {"field": "sig", "type": "nominal", "scale": {"domain": ["yes", "no"], "range": ["black", "white"]}, "legend": null}}},
    {"transform": [{"filter": "datum.drug === 'Buprenorphine'"}], "mark": {"type": "text", "align": "right", "baseline": "middle", "dx": -6, "fontSize": 11, "color": "#555"}, "encoding": {"text": {"field": "annot"}}},
    {"transform": [{"filter": "datum.drug === 'Methadone'"}], "mark": {"type": "text", "align": "left", "baseline": "middle", "dx": 6, "fontSize": 11, "color": "#555"}, "encoding": {"text": {"field": "annot"}}}
   ]},
  {"transform": [{"filter": "datum.drug === 'Placebo'"}],
   "encoding": {"x": {"field": "dose", "type": "quantitative", "scale": {"type": "linear", "domain": [-1, 11.46], "nice": false, "zero": false}, "axis": null},
    "y": {"field": "mean", "type": "quantitative", "scale": {"domain": [0, 100], "nice": false}, "axis": {"values": [0, 20, 40, 60, 80, 100], "title": null}}},
   "layer": [
    {"mark": {"type": "rule", "stroke": "black", "strokeWidth": 1.2}, "encoding": {"y": {"field": "lo", "type": "quantitative", "scale": {"domain": [0, 100], "nice": false}, "axis": {"values": [0, 20, 40, 60, 80, 100], "title": null}}, "y2": {"field": "hi"}}},
    {"mark": {"type": "point", "shape": "square", "filled": true, "fill": "white", "stroke": "black", "strokeWidth": 1, "size": 64, "opacity": 1}}
   ]}
 ]},
{"title": "Sleepy", "width": 156, "height": 127,
 "transform": [{"filter": "datum.panel === 'Sleepy'"}],
 "resolve": {"scale": {"x": "independent"}},
 "layer": [
  {"transform": [{"filter": "datum.drug !== 'Placebo'"}],
   "encoding": {
    "x": {"field": "dose", "type": "quantitative", "scale": {"type": "log", "domain": [0.11, 100], "nice": false}, "axis": {"values": [0.19, 1, 10, 100], "labelExpr": "datum.value < 0.5 ? '0' : format(datum.value, 'd')", "domain": false, "title": "Dose (mg, i.v.)"}},
    "y": {"field": "mean", "type": "quantitative", "scale": {"domain": [0, 100], "nice": false}, "axis": {"values": [0, 20, 40, 60, 80, 100], "title": null}}},
   "layer": [
    {"mark": {"type": "rule", "stroke": "black", "strokeWidth": 1}, "encoding": {"x": {"datum": 0.11, "type": "quantitative", "scale": {"type": "log", "domain": [0.11, 100], "nice": false}, "axis": {"values": [0.19, 1, 10, 100], "labelExpr": "datum.value < 0.5 ? '0' : format(datum.value, 'd')", "domain": false, "title": "Dose (mg, i.v.)"}}, "x2": {"datum": 100}, "y": {"datum": 100, "type": "quantitative", "scale": {"domain": [0, 100], "nice": false}, "axis": {"values": [0, 20, 40, 60, 80, 100], "title": null}}}},
    {"mark": {"type": "rule", "stroke": "black", "strokeWidth": 1}, "encoding": {"x": {"datum": 100, "type": "quantitative", "scale": {"type": "log", "domain": [0.11, 100], "nice": false}, "axis": {"values": [0.19, 1, 10, 100], "labelExpr": "datum.value < 0.5 ? '0' : format(datum.value, 'd')", "domain": false, "title": "Dose (mg, i.v.)"}}, "y": {"datum": 0, "type": "quantitative", "scale": {"domain": [0, 100], "nice": false}, "axis": {"values": [0, 20, 40, 60, 80, 100], "title": null}}, "y2": {"datum": 100}}},
    {"mark": {"type": "rule", "stroke": "black", "strokeWidth": 1}, "encoding": {"x": {"datum": 0.35, "type": "quantitative", "scale": {"type": "log", "domain": [0.11, 100], "nice": false}, "axis": {"values": [0.19, 1, 10, 100], "labelExpr": "datum.value < 0.5 ? '0' : format(datum.value, 'd')", "domain": false, "title": "Dose (mg, i.v.)"}}, "x2": {"datum": 100}, "y": {"datum": 0, "type": "quantitative", "scale": {"domain": [0, 100], "nice": false}, "axis": {"values": [0, 20, 40, 60, 80, 100], "title": null}}}},
    {"mark": {"type": "rule", "stroke": "black", "strokeWidth": 1}, "encoding": {"x": {"datum": 0.145, "type": "quantitative", "scale": {"type": "log", "domain": [0.11, 100], "nice": false}, "axis": {"values": [0.19, 1, 10, 100], "labelExpr": "datum.value < 0.5 ? '0' : format(datum.value, 'd')", "domain": false, "title": "Dose (mg, i.v.)"}}, "x2": {"datum": 0.25}, "y": {"datum": 0, "type": "quantitative", "scale": {"domain": [0, 100], "nice": false}, "axis": {"values": [0, 20, 40, 60, 80, 100], "title": null}}}},
    {"mark": {"type": "line", "stroke": "black", "strokeWidth": 1}, "encoding": {"detail": {"field": "drug"}}},
    {"mark": {"type": "rule", "stroke": "black", "strokeWidth": 1.2}, "encoding": {"y": {"field": "lo", "type": "quantitative", "scale": {"domain": [0, 100], "nice": false}, "axis": {"values": [0, 20, 40, 60, 80, 100], "title": null}}, "y2": {"field": "hi"}}},
    {"mark": {"type": "point", "filled": true, "stroke": "black", "strokeWidth": 1, "size": 72, "opacity": 1}, "encoding": {
      "shape": {"field": "drug", "type": "nominal", "scale": {"domain": ["Buprenorphine", "Methadone"], "range": ["circle", "triangle-up"]}, "legend": null},
      "fill": {"field": "sig", "type": "nominal", "scale": {"domain": ["yes", "no"], "range": ["black", "white"]}, "legend": null}}},
    {"transform": [{"filter": "datum.drug === 'Buprenorphine'"}], "mark": {"type": "text", "align": "right", "baseline": "middle", "dx": -6, "fontSize": 11, "color": "#555"}, "encoding": {"text": {"field": "annot"}}},
    {"transform": [{"filter": "datum.drug === 'Methadone'"}], "mark": {"type": "text", "align": "left", "baseline": "middle", "dx": 6, "fontSize": 11, "color": "#555"}, "encoding": {"text": {"field": "annot"}}}
   ]},
  {"transform": [{"filter": "datum.drug === 'Placebo'"}],
   "encoding": {"x": {"field": "dose", "type": "quantitative", "scale": {"type": "linear", "domain": [-1, 11.46], "nice": false, "zero": false}, "axis": null},
    "y": {"field": "mean", "type": "quantitative", "scale": {"domain": [0, 100], "nice": false}, "axis": {"values": [0, 20, 40, 60, 80, 100], "title": null}}},
   "layer": [
    {"mark": {"type": "rule", "stroke": "black", "strokeWidth": 1.2}, "encoding": {"y": {"field": "lo", "type": "quantitative", "scale": {"domain": [0, 100], "nice": false}, "axis": {"values": [0, 20, 40, 60, 80, 100], "title": null}}, "y2": {"field": "hi"}}},
    {"mark": {"type": "point", "shape": "square", "filled": true, "fill": "white", "stroke": "black", "strokeWidth": 1, "size": 64, "opacity": 1}}
   ]}
 ]},
{"title": "Nauseated", "width": 156, "height": 127,
 "transform": [{"filter": "datum.panel === 'Nauseated'"}],
 "resolve": {"scale": {"x": "independent"}},
 "layer": [
  {"transform": [{"filter": "datum.drug !== 'Placebo'"}],
   "encoding": {
    "x": {"field": "dose", "type": "quantitative", "scale": {"type": "log", "domain": [0.11, 100], "nice": false}, "axis": {"values": [0.19, 1, 10, 100], "labelExpr": "datum.value < 0.5 ? '0' : format(datum.value, 'd')", "domain": false, "title": null}},
    "y": {"field": "mean", "type": "quantitative", "scale": {"domain": [0, 100], "nice": false}, "axis": {"values": [0, 20, 40, 60, 80, 100], "title": null}}},
   "layer": [
    {"mark": {"type": "rule", "stroke": "black", "strokeWidth": 1}, "encoding": {"x": {"datum": 0.11, "type": "quantitative", "scale": {"type": "log", "domain": [0.11, 100], "nice": false}, "axis": {"values": [0.19, 1, 10, 100], "labelExpr": "datum.value < 0.5 ? '0' : format(datum.value, 'd')", "domain": false, "title": null}}, "x2": {"datum": 100}, "y": {"datum": 100, "type": "quantitative", "scale": {"domain": [0, 100], "nice": false}, "axis": {"values": [0, 20, 40, 60, 80, 100], "title": null}}}},
    {"mark": {"type": "rule", "stroke": "black", "strokeWidth": 1}, "encoding": {"x": {"datum": 100, "type": "quantitative", "scale": {"type": "log", "domain": [0.11, 100], "nice": false}, "axis": {"values": [0.19, 1, 10, 100], "labelExpr": "datum.value < 0.5 ? '0' : format(datum.value, 'd')", "domain": false, "title": null}}, "y": {"datum": 0, "type": "quantitative", "scale": {"domain": [0, 100], "nice": false}, "axis": {"values": [0, 20, 40, 60, 80, 100], "title": null}}, "y2": {"datum": 100}}},
    {"mark": {"type": "rule", "stroke": "black", "strokeWidth": 1}, "encoding": {"x": {"datum": 0.35, "type": "quantitative", "scale": {"type": "log", "domain": [0.11, 100], "nice": false}, "axis": {"values": [0.19, 1, 10, 100], "labelExpr": "datum.value < 0.5 ? '0' : format(datum.value, 'd')", "domain": false, "title": null}}, "x2": {"datum": 100}, "y": {"datum": 0, "type": "quantitative", "scale": {"domain": [0, 100], "nice": false}, "axis": {"values": [0, 20, 40, 60, 80, 100], "title": null}}}},
    {"mark": {"type": "rule", "stroke": "black", "strokeWidth": 1}, "encoding": {"x": {"datum": 0.145, "type": "quantitative", "scale": {"type": "log", "domain": [0.11, 100], "nice": false}, "axis": {"values": [0.19, 1, 10, 100], "labelExpr": "datum.value < 0.5 ? '0' : format(datum.value, 'd')", "domain": false, "title": null}}, "x2": {"datum": 0.25}, "y": {"datum": 0, "type": "quantitative", "scale": {"domain": [0, 100], "nice": false}, "axis": {"values": [0, 20, 40, 60, 80, 100], "title": null}}}},
    {"mark": {"type": "line", "stroke": "black", "strokeWidth": 1}, "encoding": {"detail": {"field": "drug"}}},
    {"mark": {"type": "rule", "stroke": "black", "strokeWidth": 1.2}, "encoding": {"y": {"field": "lo", "type": "quantitative", "scale": {"domain": [0, 100], "nice": false}, "axis": {"values": [0, 20, 40, 60, 80, 100], "title": null}}, "y2": {"field": "hi"}}},
    {"mark": {"type": "point", "filled": true, "stroke": "black", "strokeWidth": 1, "size": 72, "opacity": 1}, "encoding": {
      "shape": {"field": "drug", "type": "nominal", "scale": {"domain": ["Buprenorphine", "Methadone"], "range": ["circle", "triangle-up"]}, "legend": null},
      "fill": {"field": "sig", "type": "nominal", "scale": {"domain": ["yes", "no"], "range": ["black", "white"]}, "legend": null}}},
    {"transform": [{"filter": "datum.drug === 'Buprenorphine'"}], "mark": {"type": "text", "align": "right", "baseline": "middle", "dx": -6, "fontSize": 11, "color": "#555"}, "encoding": {"text": {"field": "annot"}}},
    {"transform": [{"filter": "datum.drug === 'Methadone'"}], "mark": {"type": "text", "align": "left", "baseline": "middle", "dx": 6, "fontSize": 11, "color": "#555"}, "encoding": {"text": {"field": "annot"}}}
   ]},
  {"transform": [{"filter": "datum.drug === 'Placebo'"}],
   "encoding": {"x": {"field": "dose", "type": "quantitative", "scale": {"type": "linear", "domain": [-1, 11.46], "nice": false, "zero": false}, "axis": null},
    "y": {"field": "mean", "type": "quantitative", "scale": {"domain": [0, 100], "nice": false}, "axis": {"values": [0, 20, 40, 60, 80, 100], "title": null}}},
   "layer": [
    {"mark": {"type": "rule", "stroke": "black", "strokeWidth": 1.2}, "encoding": {"y": {"field": "lo", "type": "quantitative", "scale": {"domain": [0, 100], "nice": false}, "axis": {"values": [0, 20, 40, 60, 80, 100], "title": null}}, "y2": {"field": "hi"}}},
    {"mark": {"type": "point", "shape": "square", "filled": true, "fill": "white", "stroke": "black", "strokeWidth": 1, "size": 64, "opacity": 1}}
   ]}
 ]}
],
"config": {
 "font": "Liberation Sans",
 "view": {"stroke": null},
 "title": {"fontSize": 12, "fontWeight": "normal", "offset": -4, "color": "black"},
 "axis": {"grid": false, "domainColor": "black", "tickColor": "black", "labelColor": "black", "titleColor": "black", "labelFontSize": 10, "titleFontSize": 12, "titleFontWeight": "normal", "tickSize": 3, "labelPadding": 2, "labelFlush": false, "labelOverlap": false},
 "axisX": {"labelPadding": 3, "titlePadding": 12},
 "axisY": {"titlePadding": 4, "minExtent": 0}
}
}
